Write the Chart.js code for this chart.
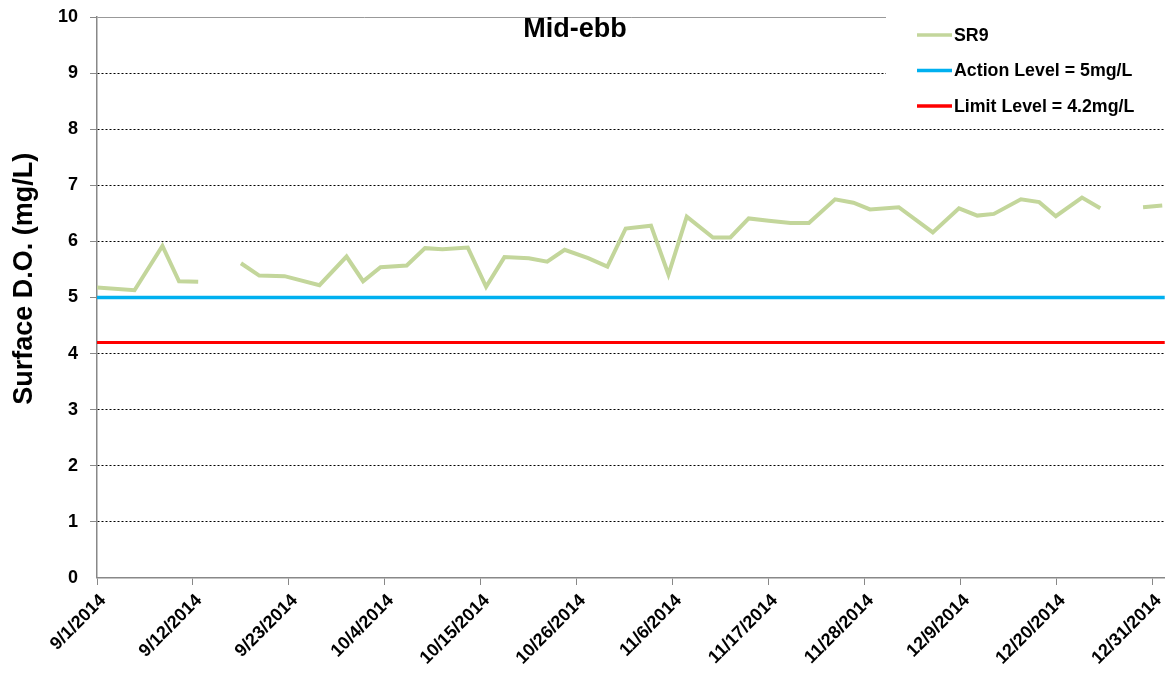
<!DOCTYPE html>
<html>
<head>
<meta charset="utf-8">
<script src="https://cdn.jsdelivr.net/npm/chart.js@4.4.1/dist/chart.umd.min.js"></script>
<style>
  html, body { margin: 0; padding: 0; background: #fff; }
  #wrap { width: 1173px; height: 678px; }
</style>
</head>
<body>
<div id="wrap"><canvas id="chart" width="1173" height="678"></canvas></div>
<script>
// days after 9/1/2014 (sampling times are not whole days), null = no sample
const days = [0, 4.3, 7.5, 9.4, 11.6, 14, 16.5, 18.6, 21.5, 25.5, 28.6, 30.5, 32.5, 35.5, 37.6, 39.6, 42.5, 44.6,
  46.7, 49.5, 51.6, 53.6, 56.3, 58.5, 60.6, 63.5, 65.5, 67.6, 70.6, 72.6, 74.7, 77, 79.5, 81.6, 84.6, 86.7, 88.6,
  91.9, 95.8, 98.8, 100.9, 102.8, 105.9, 108, 109.9, 112.9, 115, 117.5, 119.9, 122.1];
const sr9 = [5.18, 5.13, 5.92, 5.29, 5.28, null, 5.61, 5.39, 5.38, 5.22, 5.73, 5.29, 5.54, 5.57, 5.88, 5.86, 5.89, 5.19,
  5.72, 5.70, 5.64, 5.85, 5.70, 5.55, 6.23, 6.28, 5.41, 6.44, 6.07, 6.07, 6.41, 6.37, 6.33, 6.33, 6.75, 6.69, 6.57,
  6.61, 6.16, 6.59, 6.46, 6.49, 6.75, 6.70, 6.45, 6.78, 6.59, null, 6.61, 6.64];
const actionLevel = 5;
const limitLevel = 4.2;
const tickDays = [0, 11, 22, 33, 44, 55, 66, 77, 88, 99, 110, 121];
const xMax = 122.4;

const FONT = "'Liberation Sans', Arial, sans-serif";

function dayLabel(v) {
  const d = new Date(2014, 8, 1 + Math.round(v));
  return (d.getMonth() + 1) + '/' + d.getDate() + '/' + d.getFullYear();
}

const legendItems = [
  { text: 'SR9', color: '#c3d69b' },
  { text: 'Action Level = 5mg/L', color: '#00b0f0' },
  { text: 'Limit Level = 4.2mg/L', color: '#ff0000' },
];

const overlay = {
  id: 'overlay',
  afterDraw(chart) {
    const ctx = chart.ctx;
    const a = chart.chartArea;
    ctx.save();
    // title inside plot
    ctx.fillStyle = '#000';
    ctx.font = 'bold 27px ' + FONT;
    ctx.textAlign = 'center';
    ctx.textBaseline = 'middle';
    ctx.fillText('Mid-ebb', 575, a.top + 13);
    // legend box
    ctx.fillStyle = '#fff';
    ctx.fillRect(886, a.top - 1, a.right - 886 + 8, 110);
    ctx.font = 'bold 17.8px ' + FONT;
    ctx.textAlign = 'left';
    legendItems.forEach((it, i) => {
      const y = a.top + 18 + i * 35.5;
      ctx.strokeStyle = it.color;
      ctx.lineWidth = 3.5;
      ctx.beginPath();
      ctx.moveTo(917, y);
      ctx.lineTo(952, y);
      ctx.stroke();
      ctx.fillStyle = '#000';
      ctx.fillText(it.text, 954, y + 1);
    });
    ctx.restore();
  }
};

new Chart(document.getElementById('chart'), {
  type: 'line',
  data: {
    datasets: [
      {
        label: 'SR9',
        data: days.map((d, i) => ({ x: d, y: sr9[i] })),
        borderColor: '#c3d69b',
        borderWidth: 4,
        pointRadius: 0,
        spanGaps: false,
        tension: 0,
        order: 0,
      },
      {
        label: 'Action Level = 5mg/L',
        data: [{ x: 0, y: actionLevel }, { x: xMax, y: actionLevel }],
        borderColor: '#00b0f0',
        borderWidth: 3.5,
        pointRadius: 0,
        order: 1,
      },
      {
        label: 'Limit Level = 4.2mg/L',
        data: [{ x: 0, y: limitLevel }, { x: xMax, y: limitLevel }],
        borderColor: '#ff0000',
        borderWidth: 3,
        pointRadius: 0,
        order: 2,
      },
    ]
  },
  options: {
    responsive: false,
    animation: false,
    layout: { padding: { top: 17, right: 7, left: 0, bottom: 0 } },
    plugins: {
      legend: { display: false },
      title: { display: false },
      tooltip: { enabled: false },
    },
    scales: {
      x: {
        type: 'linear',
        min: 0,
        max: xMax,
        afterBuildTicks(scale) {
          scale.ticks = tickDays.map(v => ({ value: v }));
        },
        afterFit(scale) { scale.height = 100; },
        grid: { drawOnChartArea: false, tickLength: 7, tickColor: '#888' },
        border: { color: '#888', width: 1.5 },
        ticks: {
          color: '#000',
          font: { family: FONT, size: 18, weight: 'bold' },
          minRotation: 45,
          maxRotation: 45,
          padding: 5,
          labelOffset: 6,
          callback: v => dayLabel(v),
        },
      },
      y: {
        min: 0,
        max: 10,
        afterFit(scale) {
          scale.width = 97;
          scale.paddingTop = 0;
          scale.paddingBottom = 0;
        },
        grid: {
          color: ctx => ctx.tick.value === 10 ? '#999' : '#000',
          lineWidth: ctx => ctx.tick.value === 0 ? 0 : 1,
          tickLength: 7,
          tickColor: '#888',
        },
        border: {
          color: '#888',
          width: 1.5,
          dash: ctx => ctx.tick && ctx.tick.value === 10 ? [] : [2, 2],
        },
        ticks: {
          stepSize: 1,
          color: '#000',
          padding: 12,
          font: { family: FONT, size: 18, weight: 'bold' },
        },
        title: {
          display: true,
          text: '     Surface D.O. (mg/L)',
          color: '#000',
          font: { family: FONT, size: 27, weight: 'bold' },
          padding: { top: 8, bottom: 0 },
        },
      },
    },
  },
  plugins: [overlay],
});
</script>
</body>
</html>
